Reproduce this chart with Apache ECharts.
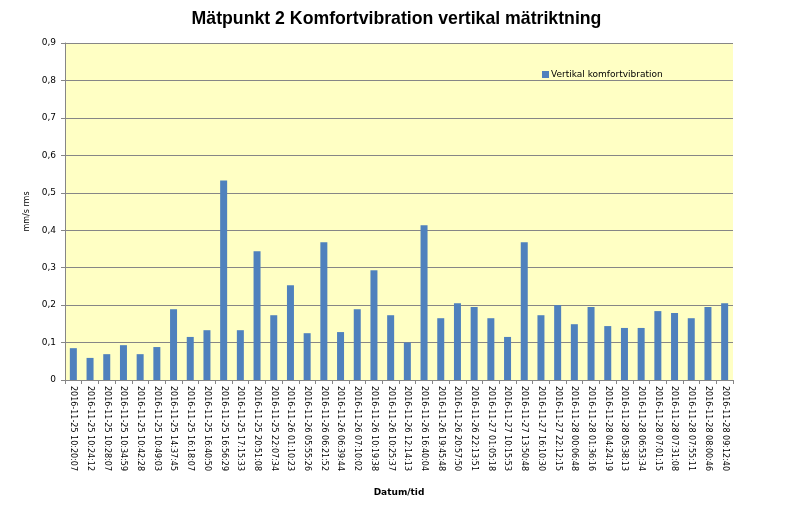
<!doctype html>
<html>
<head>
<meta charset="utf-8">
<title>Mätpunkt 2 Komfortvibration vertikal mätriktning</title>
<style>
  html, body { margin: 0; padding: 0; background: #fff; }
  #chart { width: 793px; height: 515px; }
</style>
</head>
<body>
<div id="chart"></div>
<script src="https://cdn.jsdelivr.net/npm/echarts@6/dist/echarts.min.js"></script>
<script type="text/javascript">
// mättidpunkter
var tider = [
  '2016-11-25 10:20:07', '2016-11-25 10:24:12', '2016-11-25 10:28:07', '2016-11-25 10:34:59',
  '2016-11-25 10:42:28', '2016-11-25 10:49:03', '2016-11-25 14:37:45', '2016-11-25 16:18:07',
  '2016-11-25 16:40:50', '2016-11-25 16:56:29', '2016-11-25 17:15:33', '2016-11-25 20:51:08',
  '2016-11-25 22:07:34', '2016-11-26 01:10:23', '2016-11-26 05:55:26', '2016-11-26 06:21:52',
  '2016-11-26 06:39:44', '2016-11-26 07:10:02', '2016-11-26 10:19:38', '2016-11-26 10:25:37',
  '2016-11-26 12:14:13', '2016-11-26 16:40:04', '2016-11-26 19:45:48', '2016-11-26 20:57:50',
  '2016-11-26 22:13:51', '2016-11-27 01:05:18', '2016-11-27 10:15:53', '2016-11-27 13:50:48',
  '2016-11-27 16:10:30', '2016-11-27 22:12:15', '2016-11-28 00:06:48', '2016-11-28 01:36:16',
  '2016-11-28 04:24:19', '2016-11-28 05:38:13', '2016-11-28 06:53:34', '2016-11-28 07:01:15',
  '2016-11-28 07:31:08', '2016-11-28 07:55:11', '2016-11-28 08:00:46', '2016-11-28 09:12:40'
];

// vertikal komfortvibration, mm/s rms
var vertikal = [
  0.085, 0.059, 0.069, 0.093, 0.069, 0.088, 0.189, 0.115, 0.133, 0.533,
  0.133, 0.344, 0.173, 0.253, 0.125, 0.368, 0.128, 0.189, 0.293, 0.173,
  0.100, 0.413, 0.165, 0.205, 0.195, 0.165, 0.115, 0.368, 0.173, 0.200,
  0.149, 0.195, 0.144, 0.139, 0.139, 0.184, 0.179, 0.165, 0.195, 0.205
];

var yMax = 0.9;
var yStep = 0.1;

var chart = echarts.init(document.getElementById('chart'));
var option = {
  animation: false,
  textStyle: { fontFamily: 'DejaVu Sans' },
  title: {
    text: 'Mätpunkt 2 Komfortvibration vertikal mätriktning',
    left: 'center',
    top: 5,
    textStyle: { fontFamily: 'Liberation Sans', fontSize: 17.7, fontWeight: 'bold', color: '#000' }
  },
  legend: {
    left: 542,
    top: 70,
    padding: 0,
    itemGap: 0,
    itemWidth: 7,
    itemHeight: 7,
    icon: 'rect',
    textStyle: { fontFamily: 'DejaVu Sans', fontSize: 9, color: '#000', padding: [0, 0, 0, -3] },
    data: ['Vertikal komfortvibration']
  },
  grid: {
    left: 65,
    right: 60,
    top: 43,
    bottom: 135,
    show: true,
    backgroundColor: '#FFFFC4',
    borderWidth: 0
  },
  xAxis: {
    type: 'category',
    data: tider,
    name: 'Datum/tid',
    nameLocation: 'middle',
    nameGap: 108,
    nameTextStyle: { fontFamily: 'DejaVu Sans', fontSize: 9, fontWeight: 'bold', color: '#000' },
    axisLine: { lineStyle: { color: '#868686' } },
    axisTick: { show: true, length: 4, lineStyle: { color: '#868686' } },
    axisLabel: {
      interval: 0,
      rotate: -90,
      margin: 6,
      fontFamily: 'DejaVu Sans',
      fontSize: 8,
      color: '#000'
    }
  },
  yAxis: {
    type: 'value',
    min: 0,
    max: yMax,
    interval: yStep,
    name: 'mm/s rms',
    nameLocation: 'middle',
    nameGap: 30,
    nameTextStyle: { fontFamily: 'DejaVu Sans', fontSize: 8, color: '#000' },
    axisLine: { show: true, lineStyle: { color: '#868686' } },
    axisTick: { show: true, length: 4, lineStyle: { color: '#868686' } },
    splitLine: { show: true, lineStyle: { color: '#868686', width: 1 } },
    axisLabel: {
      margin: 9,
      fontFamily: 'DejaVu Sans',
      fontSize: 9,
      color: '#000',
      formatter: function (v) {
        return v === 0 ? '0' : v.toFixed(1).replace('.', ',');
      }
    }
  },
  series: [{
    name: 'Vertikal komfortvibration',
    type: 'bar',
    data: vertikal,
    barWidth: 7,
    itemStyle: { color: '#4F81BD' }
  }]
};
chart.setOption(option);
</script>
</body>
</html>
